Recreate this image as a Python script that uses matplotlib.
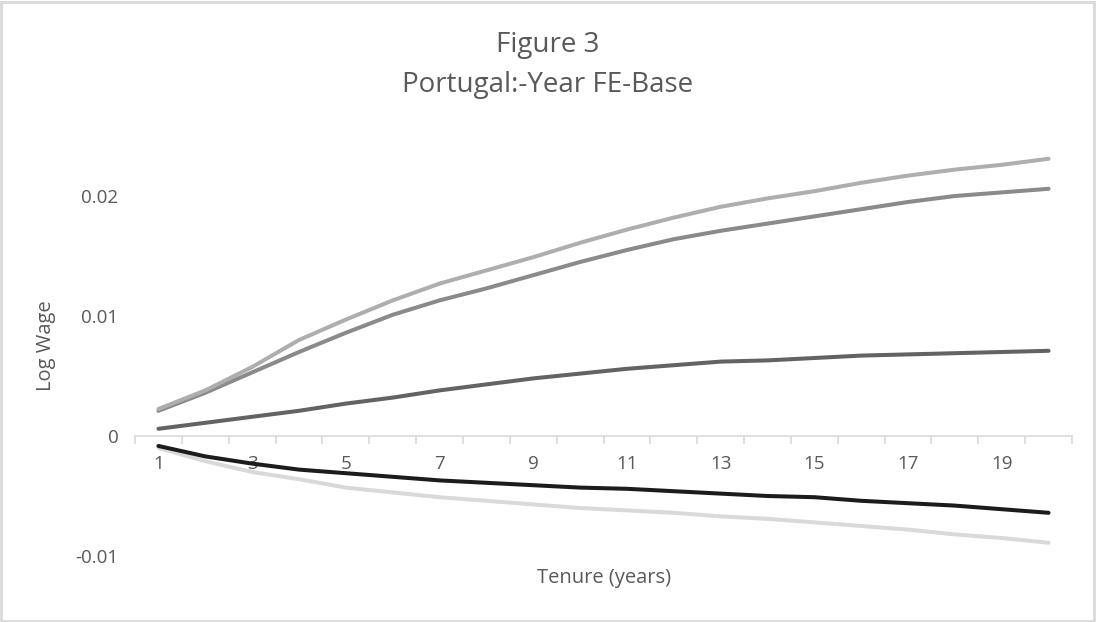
import matplotlib.pyplot as plt
from matplotlib.patches import Rectangle

# tenure years 1..20
tenure = list(range(1, 21))

series_top = [0.00225, 0.0038, 0.00575, 0.0080, 0.0097, 0.0113, 0.0127, 0.0138, 0.0149, 0.0161,
              0.0172, 0.0182, 0.0191, 0.0198, 0.0204, 0.0211, 0.0217, 0.0222, 0.0226, 0.0231]
series_mid = [0.0021, 0.0036, 0.0053, 0.0070, 0.0086, 0.0101, 0.0113, 0.0123, 0.0134, 0.0145,
              0.0155, 0.0164, 0.0171, 0.0177, 0.0183, 0.0189, 0.0195, 0.0200, 0.0203, 0.0206]
series_dark = [0.0006, 0.0011, 0.0016, 0.0021, 0.0027, 0.0032, 0.0038, 0.0043, 0.0048, 0.0052,
               0.0056, 0.0059, 0.0062, 0.0063, 0.0065, 0.0067, 0.0068, 0.0069, 0.0070, 0.0071]
series_black = [-0.00083, -0.0017, -0.0023, -0.0028, -0.0031, -0.0034, -0.0037, -0.0039, -0.0041, -0.0043,
                -0.0044, -0.0046, -0.0048, -0.0050, -0.0051, -0.0054, -0.0056, -0.0058, -0.0061, -0.0064]
series_light = [-0.0010, -0.0021, -0.0030, -0.0036, -0.0043, -0.0047, -0.0051, -0.0054, -0.0057, -0.0060,
                -0.0062, -0.0064, -0.0067, -0.0069, -0.0072, -0.0075, -0.0078, -0.0082, -0.0085, -0.0089]

ytick_vals = [-0.01, 0, 0.01, 0.02]
ytick_labels = ['-0.01', '0', '0.01', '0.02']
xtick_vals = list(range(1, 21, 2))

plt.rcParams['font.family'] = ['Open Sans', 'DejaVu Sans']
txt = '#595959'

fig = plt.figure(figsize=(10.96, 6.22), dpi=100)
ax = fig.add_axes([135 / 1096, 42 / 622, 937 / 1096, 444 / 622])

lw = 2.9
ax.plot(tenure, series_light, color='#D9D9D9', lw=lw, solid_capstyle='round', zorder=3)
ax.plot(tenure, series_black, color='#1C1C1C', lw=lw, solid_capstyle='round', zorder=4)
ax.plot(tenure, series_dark, color='#636363', lw=lw, solid_capstyle='round', zorder=3)
ax.plot(tenure, series_mid, color='#8A8A8A', lw=lw, solid_capstyle='round', zorder=3)
ax.plot(tenure, series_top, color='#AEAEAE', lw=lw, solid_capstyle='round', zorder=3)

ax.set_xlim(0.5, 20.5)
ax.set_ylim(-0.012, 0.025)

for s in ['top', 'right', 'left']:
    ax.spines[s].set_visible(False)
ax.spines['bottom'].set_position(('data', 0))
ax.spines['bottom'].set_color('#D9D9D9')
ax.spines['bottom'].set_linewidth(1.2)

ax.set_xticks(xtick_vals)
ax.set_xticklabels([str(v) for v in xtick_vals])
ax.set_xticks([v + 0.5 for v in range(0, 21)], minor=True)
ax.tick_params(axis='x', which='major', length=0, pad=14, labelsize=13.5, labelcolor=txt)
ax.tick_params(axis='x', which='minor', length=6, width=1.2, color='#D9D9D9', direction='out')

ax.set_yticks(ytick_vals)
ax.set_yticklabels(ytick_labels)
ax.tick_params(axis='y', length=0, pad=12, labelsize=13.5, labelcolor=txt)

fig.text(604 / 1096, 1 - 578 / 622, 'Tenure (years)', ha='center', va='center', fontsize=14.5, color=txt)
fig.text(46 / 1096, 1 - 346 / 622, 'Log Wage', ha='center', va='center', rotation=90, fontsize=14.5, color=txt)
fig.text(548 / 1096, 1 - 45 / 622, 'Figure 3', ha='center', va='center', fontsize=20, color=txt)
fig.text(548 / 1096, 1 - 85 / 622, 'Portugal:-Year FE-Base', ha='center', va='center', fontsize=20, color=txt)

fig.patches.append(Rectangle((0.001, 0.002), 0.997, 0.995, transform=fig.transFigure,
                             fill=False, edgecolor='#D9D9D9', lw=2))

fig.savefig('out.png', dpi=100)
